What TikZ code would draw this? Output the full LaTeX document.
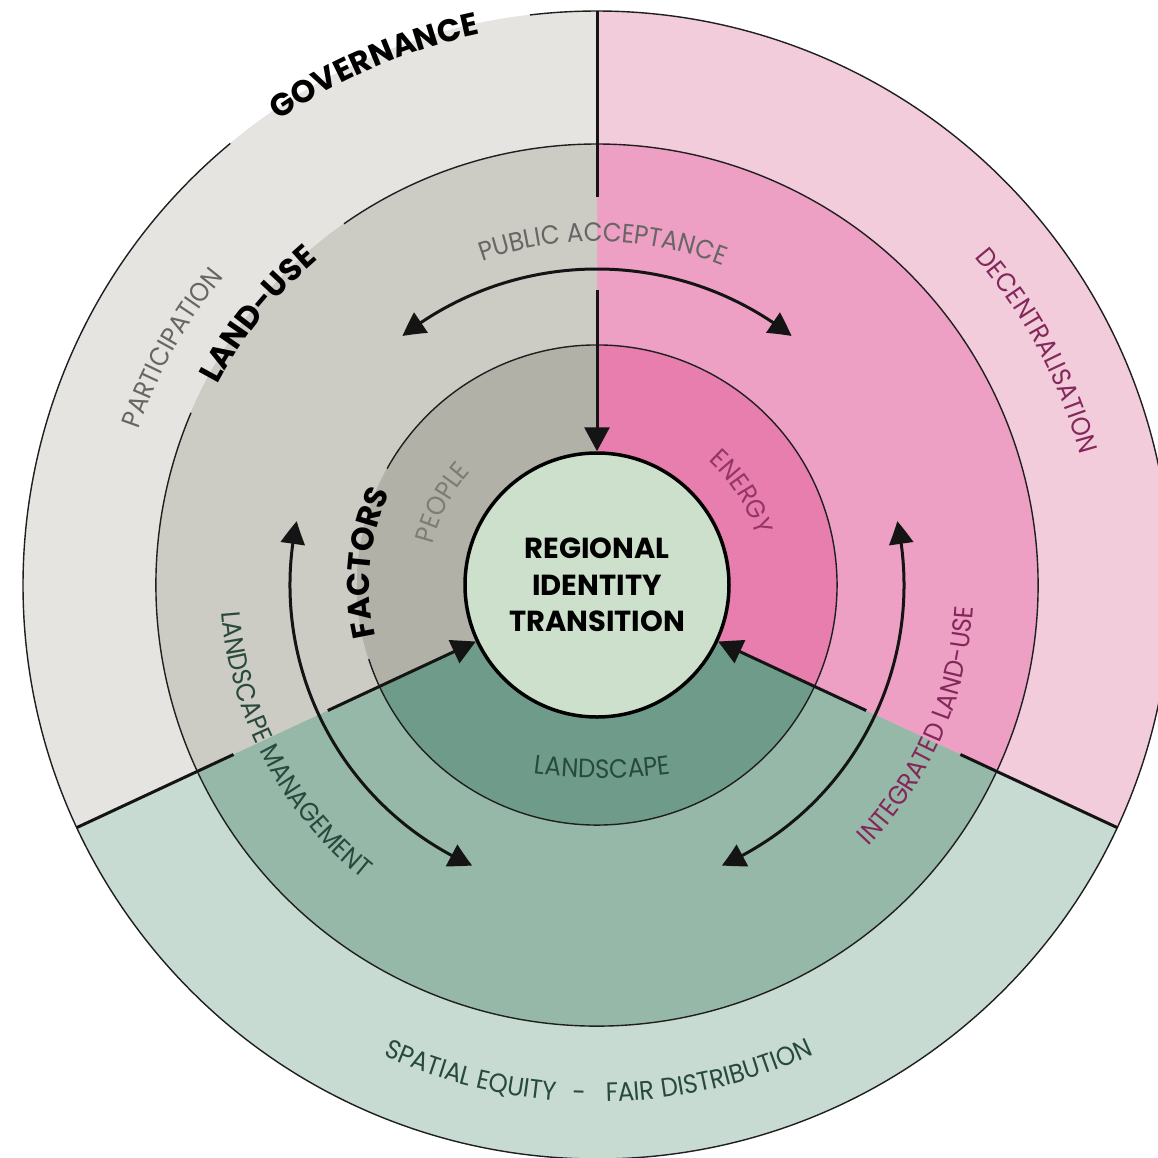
\documentclass[tikz,border=0pt]{standalone}
\usepackage{fontspec}
\setmainfont{Poppins}
\newfontfamily\lightfont{Poppins}[FakeStretch=0.92]
\usetikzlibrary{decorations.text,arrows.meta,bending}

\definecolor{outergrey}{HTML}{E5E4E0}
\definecolor{midgrey}{HTML}{CCCBC4}
\definecolor{innergrey}{HTML}{B1B1A8}
\definecolor{outerpink}{HTML}{F3CCDC}
\definecolor{midpink}{HTML}{EDA0C4}
\definecolor{innerpink}{HTML}{E77EAD}
\definecolor{outergreen}{HTML}{C7DBD2}
\definecolor{midgreen}{HTML}{96B8A9}
\definecolor{innergreen}{HTML}{6F9C8A}
\definecolor{centerfill}{HTML}{CDE0CC}
\definecolor{txtgrey}{HTML}{666664}
\definecolor{txtgreylight}{HTML}{7E7D75}
\definecolor{txtmagenta}{HTML}{84275A}
\definecolor{txtmagentalight}{HTML}{953567}
\definecolor{txtgreen}{HTML}{28493D}

\newcommand{\boldlbl}{\bfseries\fontsize{31.5}{31.5}\selectfont}
\newcommand{\lightlbl}{\lightfont\fontsize{26.5}{26.5}\selectfont}

\begin{document}
\begin{tikzpicture}[x=1pt,y=1pt,
  ringline/.style={line width=1.4pt,draw=black!88},
  divider/.style={line width=3pt,draw=black!92},
  pointer/.style={divider,-{Triangle[length=24pt,width=25pt]}},
  looparrow/.style={line width=3pt,draw=black!92,{Triangle[length=23pt,width=24pt,bend]}-{Triangle[length=23pt,width=24pt,bend]}},
  core/.style={circle,draw=black,line width=3.5pt,fill=centerfill,minimum size=264pt,inner sep=0pt,align=center,font=\bfseries\fontsize{29}{36.5}\selectfont},
  arclabel/.style={decorate}
]
\useasboundingbox (-597,-572) rectangle (561,585);
\clip (-597,-572) rectangle (561,585);
\fill[white] (-597,-572) rectangle (561,585);

% governance ring
\fill[outerpink] (0,0) circle[radius=574];
\fill[outergrey] (0,0) -- (90:574) arc[start angle=90,end angle=335,radius=574] -- cycle;
\fill[outergreen] (0,0) -- (205:574) arc[start angle=205,end angle=335,radius=574] -- cycle;
% land-use ring
\fill[midpink] (0,0) circle[radius=441];
\fill[midgrey] (0,0) -- (90:441) arc[start angle=90,end angle=335,radius=441] -- cycle;
\fill[midgreen] (0,0) -- (205:441) arc[start angle=205,end angle=335,radius=441] -- cycle;
% factors ring
\fill[innerpink] (0,0) circle[radius=240];
\fill[innergrey] (0,0) -- (90:240) arc[start angle=90,end angle=335,radius=240] -- cycle;
\fill[innergreen] (0,0) -- (205:240) arc[start angle=205,end angle=335,radius=240] -- cycle;

% ring outlines with gaps for the bold labels
\draw[ringline] (129.7:574) arc[start angle=129.7,end angle=456.7,radius=574];
\draw[ringline] (157:441) arc[start angle=157,end angle=485,radius=441];
\draw[ringline] (198:240) arc[start angle=198,end angle=511,radius=240];

% sector dividers (outer parts)
\draw[divider] (90:574) -- (90:388);
\draw[divider] (205:574) -- (205:401);
\draw[divider] (335:574) -- (335:401);

% centre
\node[core] (core) at (0,0) {REGIONAL\\IDENTITY\\TRANSITION};

% pointers into the centre
\coordinate (topin) at (90:295);
\coordinate (leftin) at (205:297);
\coordinate (rightin) at (335:297);
\draw[pointer] (topin) -- (core.90);
\draw[pointer] (leftin) -- (core.205);
\draw[pointer] (rightin) -- (core.335);

% curved double arrows
\coordinate (topstart) at (128:316);
\coordinate (leftstart) at (168:307);
\coordinate (rightstart) at (-66:307);
\draw[looparrow] (topstart) arc[start angle=128,end angle=52,radius=316];
\draw[looparrow] (leftstart) arc[start angle=168,end angle=246,radius=307];
\draw[looparrow] (rightstart) arc[start angle=-66,end angle=12,radius=307];

% bold ring titles
\path[arclabel,decoration={text along path,text align=center,text color=black,text={|\boldlbl|GOVERNANCE}}]
  (150:563) arc[start angle=150,end angle=76.4,radius=563];
\path[arclabel,decoration={text along path,text align=center,text color=black,text={|\boldlbl|LAND-USE}}]
  (175:429) arc[start angle=175,end angle=107.8,radius=429];
\path[arclabel,decoration={text along path,text align=center,text color=black,text={|\boldlbl|FACTORS}}]
  (224.5:227.5) arc[start angle=224.5,end angle=124.5,radius=227.5];

% governance ring labels
\path[arclabel,decoration={text along path,text align=center,text color=txtgrey,text={|\lightlbl|PARTICIPATION}}]
  (190.85:484) arc[start angle=190.85,end angle=110.85,radius=484];
\path[arclabel,decoration={text along path,text align=center,text color=txtmagenta,text={|\lightlbl|DECENTRALISATION}}]
  (68:500) arc[start angle=68,end angle=-12,radius=500];
\path[arclabel,decoration={text along path,text align=center,text color=txtgreen,text={|\lightlbl|SPATIAL EQUITY}}]
  (225.5:517) arc[start angle=225.5,end angle=285.5,radius=517];
\path[arclabel,decoration={text along path,text align=center,text color=txtgreen,text={|\lightlbl|-}}]
  (258:517) arc[start angle=258,end angle=278,radius=517];
\path[arclabel,decoration={text along path,text align=center,text color=txtgreen,text={|\lightlbl|FAIR DISTRIBUTION}}]
  (252.9:517) arc[start angle=252.9,end angle=312.9,radius=517];

% land-use ring labels
\path[arclabel,decoration={text along path,text align=center,text color=txtgrey,text={|\lightlbl|PUBLIC ACCEPTANCE}}]
  (139:343.5) arc[start angle=139,end angle=39,radius=343.5];
\path[arclabel,decoration={text along path,text align=center,text color=txtgreen,text={|\lightlbl|LANDSCAPE MANAGEMENT}}]
  (157.8:376) arc[start angle=157.8,end angle=257.8,radius=376];
\path[arclabel,decoration={text along path,text align=center,text color=txtmagenta,text={|\lightlbl|INTEGRATED LAND-USE}}]
  (-78.6:377) arc[start angle=-78.6,end angle=31.4,radius=377];

% factors ring labels
\path[arclabel,decoration={text along path,text align=center,text color=txtgreylight,text={|\lightlbl|PEOPLE}}]
  (202:169.5) arc[start angle=202,end angle=102,radius=169.5];
\path[arclabel,decoration={text along path,text align=center,text color=txtmagentalight,text={|\lightlbl|ENERGY}}]
  (82.7:167) arc[start angle=82.7,end angle=-17.3,radius=167];
\begin{scope}[shift={(5.5,330)}]
\path[arclabel,decoration={text along path,text align=center,text color=txtgreen,text={|\lightlbl|LANDSCAPE}}]
  (250:523) arc[start angle=250,end angle=290,radius=523];
\end{scope}
\end{tikzpicture}
\end{document}
